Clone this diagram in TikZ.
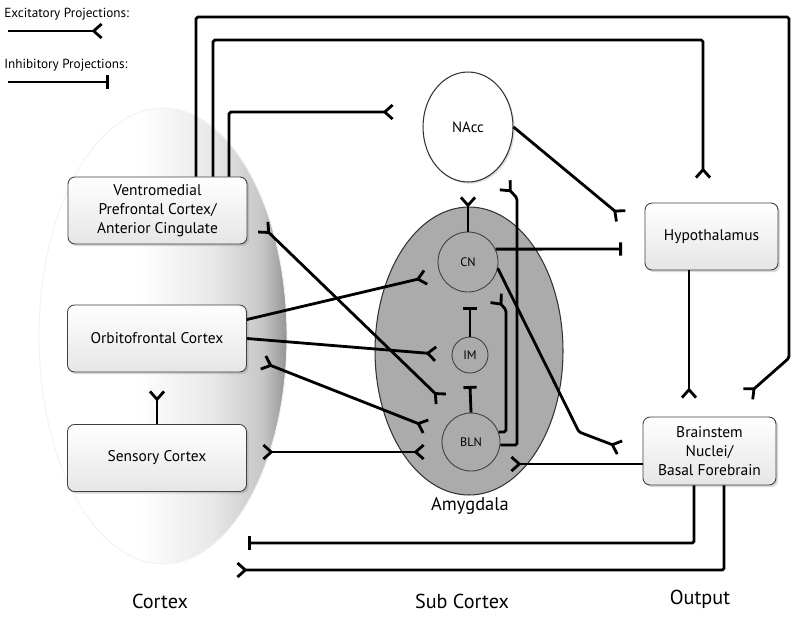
\documentclass[tikz,border=0pt]{standalone}
\usepackage{fontspec}
\setmainfont{PT Sans}
\usetikzlibrary{arrows.meta,shapes.geometric,shadows,calc}

\pgfdeclarehorizontalshading{cortexside}{100bp}{color(0bp)=(white); color(45bp)=(white); color(60bp)=(black!9); color(70bp)=(black!22); color(75bp)=(black!42); color(100bp)=(black!42)}

\tikzset{
  fork/.tip={Straight Barb[reversed, length=4.5pt, width=8pt]},
  proj/.style={line width=1.6pt, rounded corners=1pt},
  exc/.style={proj, -fork},
  exc2/.style={proj, fork-fork},
  inh/.style={proj, -{Bar[width=7.5pt]}},
  box/.style={draw=black!75, line width=0.5pt, rounded corners=4pt, minimum width=3.58cm,
    minimum height=1.34cm, align=center, top color=white, bottom color=black!10,
    drop shadow={shadow xshift=1.2pt, shadow yshift=-1.2pt, opacity=0.3},
    font=\fontsize{8.8}{10.8}\selectfont},
  nucleus/.style={circle, draw=black!75, line width=0.5pt, fill=black!33, inner sep=0pt,
    font=\fontsize{7}{8}\selectfont},
  heading/.style={font=\fontsize{11.5}{13}\selectfont},
  legend/.style={anchor=west, inner sep=0pt, font=\fontsize{7.5}{9}\selectfont}
}

\begin{document}
\begin{tikzpicture}[x=0.02cm, y=-0.02cm]
  \useasboundingbox (0,0) rectangle (800,619);
  % Cortex region
  \shade[shading=cortexside, draw=black!5, line width=0.5pt] (163,336) ellipse [x radius=2.48cm, y radius=4.56cm];

  % Nodes
  \node[ellipse, draw=black!80, line width=0.6pt, fill=black!33, minimum width=3.76cm, minimum height=5.76cm] (amyg) at (469,351) {};
  \node[nucleus, minimum size=1.2cm] (cn) at (468,262) {CN};
  \node[nucleus, minimum size=0.72cm] (im) at (470,355) {IM};
  \node[nucleus, minimum size=1.16cm] (bln) at (471,442) {BLN};
  \node[ellipse, draw=black!80, line width=0.6pt, fill=white, minimum width=1.8cm, minimum height=2.2cm,
    drop shadow={shadow xshift=1pt, shadow yshift=-1pt, opacity=0.25}, font=\fontsize{8.5}{10}\selectfont] (nacc) at (468,127) {NAcc};
  \node[box] (vm) at (157.5,210.5) {Ventromedial\\Prefrontal Cortex/\\Anterior Cingulate};
  \node[box] (ofc) at (157,338.5) {Orbitofrontal Cortex};
  \node[box] (sens) at (157,458) {Sensory Cortex};
  \node[box, minimum width=2.66cm] (hyp) at (711.5,236.5) {Hypothalamus};
  \node[box, minimum width=2.66cm, minimum height=1.36cm] (bs) at (709.5,451) {Brainstem\\Nuclei/\\Basal Forebrain};

  % Labels
  \node[font=\fontsize{10.5}{12}\selectfont] (amyglab) at (470,506) {Amygdala};
  \node[heading] (cortexlab) at (160,601) {Cortex};
  \node[heading] (subcortexlab) at (462,601) {Sub Cortex};
  \node[heading] (outputlab) at (700,599) {Output};

  % Legend
  \node[legend] (exclab) at (4,14) {Excitatory Projections:};
  \node[legend] (inhlab) at (4,65) {Inhibitory Projections:};
  \coordinate (excA) at (8,31);
  \coordinate (excB) at (103,31);
  \coordinate (inhA) at (8,82);
  \coordinate (inhB) at (109,82);
  \draw[exc] (excA) -- (excB);
  \draw[inh] (inhA) -- (inhB);

  % Arrow ends
  \coordinate (bsA) at (747,395);
  \coordinate (hypA) at (703,179);
  \coordinate (naccA) at (394,112);
  \coordinate (hypB) at (622,217);
  \coordinate (hypBar) at (622,249);
  \coordinate (naccB) at (468,196);
  \coordinate (naccC) at (504,184);
  \coordinate (cnA) at (495,297);
  \coordinate (bsB) at (621,448);
  \coordinate (bsC) at (689,399);
  \coordinate (blnA) at (510,464);
  \coordinate (ctxBar) at (248,543);
  \coordinate (ctxA) at (236,570);
  \coordinate (sensA) at (262,452);
  \coordinate (blnB) at (425,452);
  \coordinate (vmA) at (262,226);
  \coordinate (blnC) at (442,400);
  \coordinate (ofcA) at (262,362);
  \coordinate (blnD) at (427,427);
  \coordinate (cnB) at (427,277);
  \coordinate (imA) at (437,354);
  \coordinate (ofcB) at (157,390);
  \coordinate (cnBar) at (470,307);
  \coordinate (imBar) at (470,386);

  % Projections
  \draw[exc] (vm.north -| 196,0) -- (196,17) -| (789,358) -- (bsA);
  \draw[exc] (vm.north -| 213,0) -- (213,40) -| (hypA);
  \draw[exc] (vm.north -| 229,0) |- (naccA);
  \draw[exc] (nacc.east) -- (hypB);
  \draw[inh] (cn.25) -- (hypBar);
  \draw[exc] (cn.north) -- (naccB);
  \draw[exc] (bln.-6) -| (517,198) -- (naccC);
  \draw[exc] (bln.20) -| (506,310) -- (cnA);
  \draw[exc] (cn.-12) -- (579,432) -- (bsB);
  \draw[exc] (hyp.south -| bsC) -- (bsC);
  \draw[exc] (bs.west |- blnA) -- (blnA);
  \draw[inh] (bs.south -| 694,0) |- (ctxBar);
  \draw[exc] (bs.south -| 724,0) |- (ctxA);
  \draw[exc2] (sensA) -- (blnB);
  \draw[exc2] (vmA) -- (blnC);
  \draw[exc2] (ofcA) -- (blnD);
  \draw[exc] ($(ofc.east)+(0,-19)$) -- (cnB);
  \draw[exc] (ofc.east) -- (imA);
  \draw[exc] (sens.north) -- (ofcB);
  \draw[inh] (im.north) -- (cnBar);
  \draw[inh] (bln.north) -- (imBar);
\end{tikzpicture}
\end{document}
